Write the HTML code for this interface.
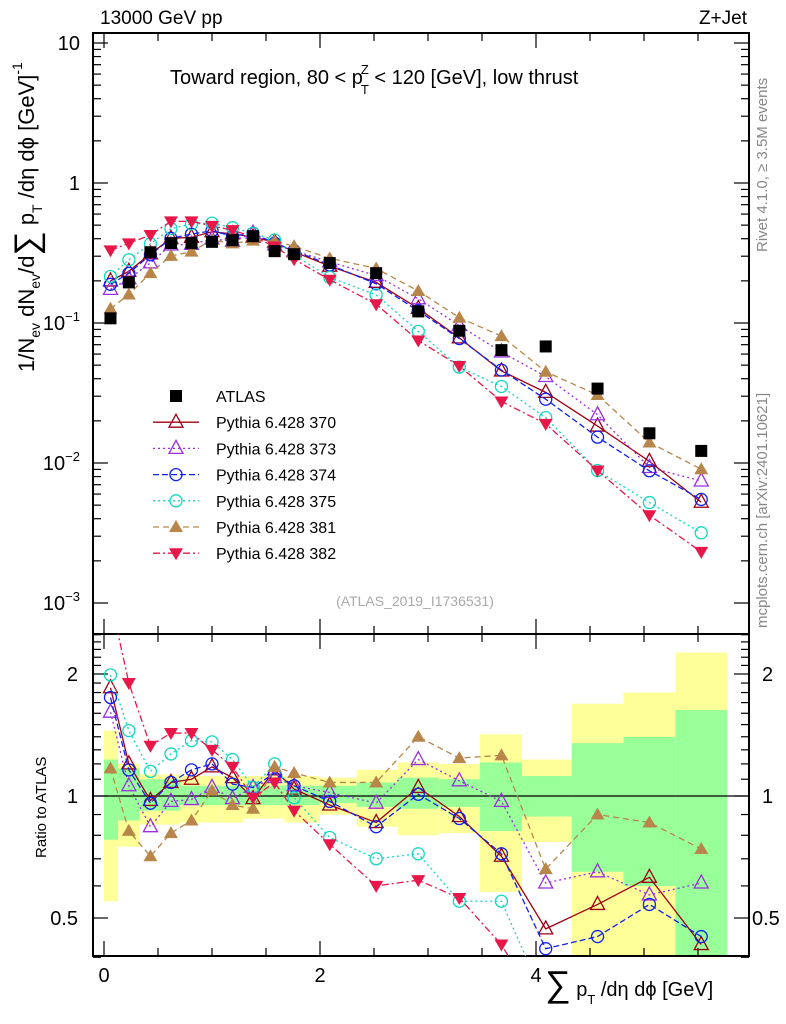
<!DOCTYPE html>
<html><head><meta charset="utf-8"><style>
html,body{margin:0;background:#fff;overflow:hidden;width:786px;height:1024px}
svg{font-family:"Liberation Sans",sans-serif;display:block}
</style></head><body>
<svg id="c" width="786" height="1024" viewBox="0 0 786 1024" xmlns="http://www.w3.org/2000/svg">
<defs>
<clipPath id="cu"><rect x="93" y="33" width="656" height="601"/></clipPath>
<clipPath id="cl"><rect x="93" y="634" width="656" height="322"/></clipPath>
</defs>
<g id="bands" clip-path="url(#cl)"></g>
<g id="plot"></g>
<text x="100" y="24" font-size="19">13000 GeV pp</text>
<text x="747" y="24" font-size="19" text-anchor="end">Z+Jet</text>
<text x="170" y="84" font-size="20">Toward region, 80 &lt; p<tspan font-size="13" dx="-2" dy="-10">Z</tspan><tspan font-size="13" dx="-8" dy="20">T</tspan><tspan dy="-10"> &lt; 120 [GeV], low thrust</tspan></text>
<text x="415" y="606" font-size="14" fill="#aaa" text-anchor="middle">(ATLAS_2019_I1736531)</text>
<text transform="translate(767,252) rotate(-90)" font-size="15" fill="#888">Rivet 4.1.0, ≥ 3.5M events</text>
<text transform="translate(767,628) rotate(-90)" font-size="15" fill="#888">mcplots.cern.ch [arXiv:2401.10621]</text>
<text transform="translate(34,372) rotate(-90)" font-size="22">1/N<tspan font-size="14" dy="6">ev</tspan><tspan dy="-6"> dN</tspan><tspan font-size="14" dy="6">ev</tspan><tspan dy="-6">/d</tspan><tspan font-size="34" dy="4">∑</tspan><tspan dy="-4"> p</tspan><tspan font-size="14" dy="8">T</tspan><tspan dy="-8"> /dη dϕ  [GeV]</tspan><tspan font-size="14" dy="-12">-1</tspan></text>
<text transform="translate(46,858) rotate(-90)" font-size="15">Ratio to ATLAS</text>
<text x="545" y="996" font-size="20"><tspan font-size="36">∑</tspan> p<tspan font-size="13" dy="8">T</tspan><tspan dy="-8"> /dη dϕ [GeV]</tspan></text>
<g id="legend"></g>
</svg>
<script>
const xs=[0.06,0.23,0.43,0.62,0.81,1.0,1.19,1.38,1.58,1.76,2.09,2.52,2.91,3.29,3.68,4.09,4.57,5.05,5.53];
const atlas=[0.108,0.195,0.32,0.372,0.372,0.38,0.39,0.417,0.326,0.31,0.268,0.227,0.121,0.088,0.064,0.068,0.034,0.0163,0.0122];
const binEdges=[0,0.13,0.33,0.52,0.71,0.9,1.1,1.29,1.48,1.67,1.99,2.34,2.72,3.1,3.48,3.87,4.33,4.81,5.29,5.77];
const yelHi=[1.45,1.2,1.13,1.13,1.12,1.12,1.12,1.12,1.12,1.12,1.11,1.16,1.21,1.2,1.42,1.23,1.69,1.8,2.26];
const yelLo=[0.55,0.75,0.85,0.85,0.86,0.86,0.86,0.88,0.88,0.86,0.9,0.84,0.8,0.81,0.58,0.77,0.3,0.3,0.3];
const grnHi=[1.23,1.17,1.1,1.1,1.06,1.06,1.06,1.06,1.06,1.06,1.06,1.08,1.11,1.1,1.21,1.12,1.35,1.4,1.63];
const grnLo=[0.78,0.87,0.92,0.92,0.95,0.95,0.95,0.95,0.95,0.95,0.96,0.94,0.93,0.94,0.82,0.89,0.65,0.6,0.3];
const r370=[1.85,1.2,0.975,1.08,1.1,1.18,1.11,0.985,1.16,1.04,0.95,0.86,1.05,0.89,0.71,0.47,0.54,0.63,0.43];
const r373=[1.61,1.06,0.84,0.97,0.98,1.05,0.985,1.05,1.11,1.06,1.02,0.96,1.23,1.09,0.97,0.61,0.65,0.57,0.61];
const r374=[1.75,1.16,0.96,1.08,1.16,1.2,1.07,1.05,1.14,1.06,0.97,0.84,1.01,0.88,0.72,0.42,0.45,0.54,0.45];
const r375=[1.99,1.45,1.15,1.27,1.37,1.36,1.23,1.05,1.2,0.99,0.79,0.7,0.72,0.55,0.55,0.31,0.26,0.32,0.26];
const r381=[1.17,0.82,0.71,0.81,0.87,1.03,0.95,0.93,1.18,1.14,1.08,1.08,1.4,1.24,1.26,0.66,0.9,0.86,0.74];
const r382=[3.06,1.9,1.33,1.43,1.43,1.3,1.18,0.99,1.08,0.92,0.76,0.6,0.62,0.56,0.43,0.28,0.26,0.26,0.19];
const yTicksUpper=["10","1","10⁻¹","10⁻²","10⁻³"];
const xTickLabels=["0","2","4"];

const NS="http://www.w3.org/2000/svg";
const X=v=>104+108*v;
const YU=v=>183-140*Math.log10(v);
const YL=r=>796-122*Math.log2(r);
function mk(tag,attrs,parent){const e=document.createElementNS(NS,tag);for(const k in attrs)e.setAttribute(k,attrs[k]);parent.appendChild(e);return e;}
const plot=document.getElementById('plot'),bands=document.getElementById('bands'),leg=document.getElementById('legend');

for(let i=0;i<xs.length;i++){
  const x0=X(binEdges[i]),x1=X(binEdges[i+1]);
  const y=mk('rect',{x:x0,y:YL(yelHi[i]),width:x1-x0,height:YL(yelLo[i])-YL(yelHi[i]),fill:'#ffff99'},bands);
  
  
  const g=mk('rect',{x:x0,y:YL(grnHi[i]),width:x1-x0,height:YL(grnLo[i])-YL(grnHi[i]),fill:'#99ff99'},bands);
  
  
}
const one=mk('line',{x1:93,x2:749,y1:YL(1),y2:YL(1),stroke:'#000','stroke-width':1.2},plot);



const fu=mk('rect',{x:93,y:33,width:656,height:601,fill:'none',stroke:'#000','stroke-width':2},plot);


const fl=mk('rect',{x:93,y:634,width:656,height:322,fill:'none',stroke:'#000','stroke-width':2},plot);



for(let v=0;v<=5.75;v+=0.5){
  const major=Math.abs(v%2)<1e-6;const L=major?15:8;
  [[634,-1],[956,-1],[33,1],[634,1]].forEach(([y,d])=>{mk('line',{x1:X(v),x2:X(v),y1:y,y2:y+d*L,stroke:'#000','stroke-width':1.2},plot);});
}
xTickLabels.forEach((t,i)=>{const e=mk('text',{x:X(i*2),y:982,'font-size':20,'text-anchor':'middle'},plot);e.textContent=t;

});
for(let d=-3;d<=1;d++){
  for(let m=1;m<10;m++){const v=m*Math.pow(10,d);if(v>11.5||v<0.00079)continue;const y=YU(v);const L=m==1?15:8;
    mk('line',{x1:93,x2:93+L,y1:y,y2:y,stroke:'#000','stroke-width':1.2},plot);
    mk('line',{x1:749,x2:749-L,y1:y,y2:y,stroke:'#000','stroke-width':1.2},plot);}
}
yTicksUpper.forEach((t,i)=>{const e=mk('text',{x:80,y:YU(Math.pow(10,1-i))+7,'font-size':20,'text-anchor':'end'},plot);
 if(i<2)e.textContent=t;else{e.textContent='10';const s=mk('tspan',{'font-size':13,dy:-9},e);s.textContent=(-(i-1)).toString().replace('-','−');}

});
[0.4,0.5,0.6,0.7,0.8,0.9,1,1.1,1.2,1.3,1.4,1.5,1.6,1.7,1.8,1.9,2,2.1,2.2,2.3,2.4,2.5].forEach(r=>{
 const y=YL(r);const L=(r==0.5||r==1||r==2)?15:8;
 mk('line',{x1:93,x2:93+L,y1:y,y2:y,stroke:'#000','stroke-width':1.2},plot);
 mk('line',{x1:749,x2:749-L,y1:y,y2:y,stroke:'#000','stroke-width':1.2},plot);});
[["2",2],["1",1],["0.5",0.5]].forEach(([t,r])=>{
 const a=mk('text',{x:78,y:YL(r)+7,'font-size':20,'text-anchor':'end'},plot);a.textContent=t;
 
 
 const b=mk('text',{x:t.length>1?752:762,y:YL(r)+7,'font-size':20},plot);b.textContent=t;
 
 });

function marker(g,type,x,y,col){
  if(type=='sq')mk('rect',{x:x-6,y:y-6,width:12,height:12,fill:'#000'},g);
  else if(type=='otri')mk('polygon',{points:`${x},${y-8} ${x-7},${y+5} ${x+7},${y+5}`,fill:'none',stroke:col,'stroke-width':1.3},g);
  else if(type=='ftri')mk('polygon',{points:`${x},${y-7} ${x-7},${y+5} ${x+7},${y+5}`,fill:col},g);
  else if(type=='dtri')mk('polygon',{points:`${x},${y+7} ${x-7},${y-5} ${x+7},${y-5}`,fill:col},g);
  else if(type=='circ')mk('circle',{cx:x,cy:y,r:6,fill:'none',stroke:col,'stroke-width':1.3},g);
}
const series=[
 {n:'Pythia 6.428 370',r:r370,c:'#a00014',m:'otri',d:'',id:'series-370'},
 {n:'Pythia 6.428 373',r:r373,c:'#9a2ee0',m:'otri',d:'2,3',id:'series-373'},
 {n:'Pythia 6.428 374',r:r374,c:'#1020ee',m:'circ',d:'6,3',id:'series-374'},
 {n:'Pythia 6.428 375',r:r375,c:'#10d8c0',m:'circ',d:'2,3',id:'series-375'},
 {n:'Pythia 6.428 381',r:r381,c:'#b8864b',m:'ftri',d:'6,4',id:'series-381'},
 {n:'Pythia 6.428 382',r:r382,c:'#e8174a',m:'dtri',d:'7,3,2,3',id:'series-382'}];
series.forEach(s=>{
  const gu=mk('g',{'clip-path':'url(#cu)'},plot);
  
  
  const gl=mk('g',{'clip-path':'url(#cl)'},plot);
  
  
  const pu=xs.map((x,i)=>X(x)+','+YU(atlas[i]*s.r[i])).join(' ');
  const pl=xs.map((x,i)=>X(x)+','+YL(s.r[i])).join(' ');
  mk('polyline',{points:pu,fill:'none',stroke:s.c,'stroke-width':1.3,'stroke-dasharray':s.d},gu);
  mk('polyline',{points:pl,fill:'none',stroke:s.c,'stroke-width':1.3,'stroke-dasharray':s.d},gl);
  xs.forEach((x,i)=>{marker(gu,s.m,X(x),YU(atlas[i]*s.r[i]),s.c);marker(gl,s.m,X(x),YL(s.r[i]),s.c);});
});
const ga=mk('g',{},plot);


xs.forEach((x,i)=>marker(ga,'sq',X(x),YU(atlas[i]),'#000'));

const le=[{n:'ATLAS',m:'sq',c:'#000',d:null}].concat(series);
le.forEach((s,i)=>{
  const y=396+i*26.2;
  const g=mk('g',{},leg);
  
  
  if(s.d!==null)mk('line',{x1:153,x2:199,y1:y,y2:y,stroke:s.c,'stroke-width':1.3,'stroke-dasharray':s.d},g);
  marker(g,s.m,176,y,s.c);
  const t=mk('text',{x:216,y:y+6,'font-size':16},g);t.textContent=s.n;
});
</script>
</body></html>
